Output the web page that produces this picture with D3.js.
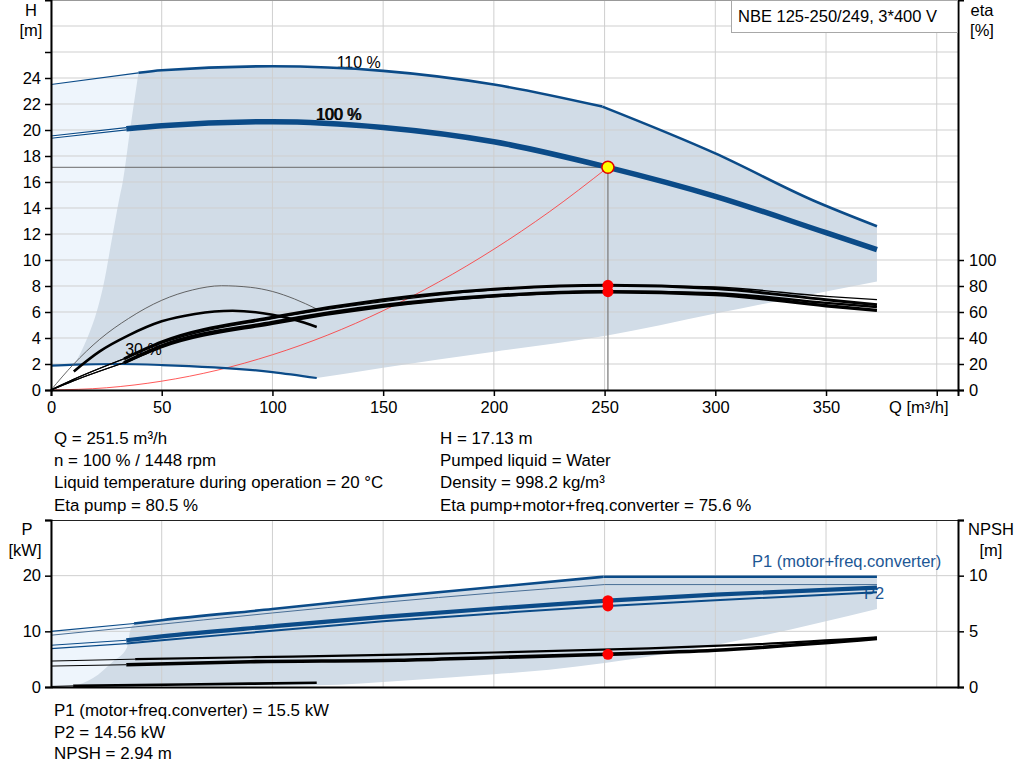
<!DOCTYPE html>
<html>
<head>
<meta charset="utf-8">
<script src="https://cdn.jsdelivr.net/npm/d3@7"></script>
<style>
  body { margin: 0; background: #fff; }
  text { font-family: "Liberation Sans", Arial, sans-serif; fill: #000; }
</style>
</head>
<body>
<div id="chart"></div>
<script>
/* ============ DATA ============ */
const qTicks = [0, 50, 100, 150, 200, 250, 300, 350, 400];
const qLabels = [0, 50, 100, 150, 200, 250, 300, 350];
const hTicks = [0, 2, 4, 6, 8, 10, 12, 14, 16, 18, 20, 22, 24];
const hGrid = [2, 4, 6, 8, 10, 12, 14, 16, 18, 20, 22, 24, 26, 28];
const etaTicks = [0, 20, 40, 60, 80, 100];
const pTicks = [0, 10, 20];
const npshTicks = [0, 5, 10];

// curvas H (m)
const h110 = [[0, 23.5], [39.5, 24.4], [50, 24.6], [100, 24.9], [150, 24.55], [200, 23.5], [249, 21.8]];
const h110Limit = [[249, 21.8], [300, 18.2], [344, 14.6], [373, 12.6]];
const h100 = [[0, 19.45], [34, 20.1], [50, 20.33], [100, 20.64], [150, 20.2], [200, 19.1], [251.5, 17.13], [300, 14.9], [350, 12.1], [373, 10.8]];
const hMin = [[0, 1.87], [10.5, 1.95], [30, 2.0], [50, 1.92], [100, 1.38], [120, 0.92]];
const hFillLeft = [[10.5, 1.95], [16.4, 4], [20.6, 6], [23.6, 8], [28, 12.1], [30.7, 14.6], [32.4, 16], [35.7, 20], [39.5, 24.4]];
const hFillBottom = [[373, 8.35], [350, 7.58], [300, 5.88], [250, 4.15], [200, 2.95], [150, 1.72], [120, 0.92]];
const systemCurve = [[0, 0], [25, 0.17], [50, 0.68], [75, 1.52], [100, 2.71], [125, 4.23], [150, 6.1], [175, 8.3], [200, 10.83], [225, 13.7], [251.5, 17.13]];

// curvas eta (%)
const eta1 = [[0, 0], [10, 8], [33, 24], [50, 36], [100, 55], [150, 68], [200, 77], [250, 80.6], [300, 79.2], [350, 72], [373, 69.5]];
const eta2 = [[0, 0], [10, 8], [33, 24], [50, 37], [100, 56], [150, 69.5], [200, 77.5], [251.5, 80.5], [300, 78], [350, 69.5], [373, 65.6]];
const eta3 = [[0, 0], [10, 7], [33, 21], [50, 33], [100, 51], [150, 64], [200, 72], [250, 75.8], [300, 74.5], [350, 67], [373, 63.8]];
const eta4 = [[0, 0], [10, 7], [33, 21], [50, 34], [100, 52], [150, 65], [200, 72.5], [251.5, 75.6], [300, 73.5], [350, 64.8], [373, 61.2]];
const eta30Pump = [[0, 0], [10, 19.5], [22, 39], [35, 55], [50, 69], [64, 77], [77, 80.2], [90, 79], [100, 75.8], [110, 70], [120, 62.3]];
const eta30Total = [[10.3, 14.3], [22, 29.7], [35, 42], [50, 52.8], [65, 58.5], [82, 61], [100, 57.9], [110, 54], [120, 48.5]];

// curvas P (kW) y NPSH (m)
const p1Max = [[0, 10.0], [37.5, 11.4], [50, 12.0], [100, 14.0], [150, 16.1], [200, 17.95], [249.5, 19.8]];
const p1MaxFlat = [[249.5, 19.8], [373, 19.8]];
const p2Max = [[0, 9.3], [38, 10.8], [100, 13.3], [150, 15.2], [200, 16.9], [250, 18.4]];
const p2MaxFlat = [[250, 18.4], [373, 18.4]];
const p1Nom = [[0, 7.5], [34, 8.4], [50, 9.1], [100, 10.9], [150, 12.6], [200, 14.1], [251.5, 15.5], [300, 16.6], [373, 17.85]];
const p2Nom = [[0, 6.9], [34, 7.8], [50, 8.4], [100, 10.1], [150, 11.8], [200, 13.2], [251.5, 14.56], [300, 15.6], [373, 17.0]];
const p1Min = [[0, 0.1], [10, 0.2], [60, 0.45], [120, 0.75]];
const pFillLeft = [[10, 0.1], [19, 1.6], [28, 4.6], [34.2, 7.0], [35.7, 10], [37.5, 11.4]];
const pFillBottom = [[373, 14.0], [316, 8.8], [250, 4.3], [225, 3.1], [200, 2.3], [160, 1.15], [120, 0.3], [10, 0.1]];
const npsh1 = [[0, 2.33], [38, 2.5], [90, 2.67], [157, 2.9], [200, 3.1], [270, 3.47], [320, 3.85], [373, 4.45]];
const npsh2 = [[0, 1.88], [34, 2.0], [90, 2.27], [157, 2.4], [200, 2.65], [251.5, 2.94], [300, 3.3], [373, 4.35]];

// punto de trabajo
const dutyQ = 251.5, dutyH = 17.13, dutyEta = [80.5, 75.6], dutyP = [15.5, 14.56], dutyNpsh = 2.94;

const infoLeft = ["Q = 251.5 m³/h", "n = 100 % / 1448 rpm", "Liquid temperature during operation = 20 °C", "Eta pump = 80.5 %"];
const infoRight = ["H = 17.13 m", "Pumped liquid = Water", "Density = 998.2 kg/m³", "Eta pump+motor+freq.converter = 75.6 %"];
const infoBottom = ["P1 (motor+freq.converter) = 15.5 kW", "P2 = 14.56 kW", "NPSH = 2.94 m"];

/* ============ ESTILOS ============ */
const BLUE = "#0b4b88";
const FILL_DARK = "#d1dce7";
const FILL_LIGHT = "#eef5fc";
const GRID = "#cfcfcf";
const FS = 16.5;     // ejes
const FS_INFO = 16.9; // bloques de texto

/* ============ SVG / ESCALAS ============ */
const svg = d3.select("#chart").append("svg")
  .attr("width", 1024).attr("height", 781)
  .style("background", "#fff");

const x = d3.scaleLinear().domain([0, 409.6]).range([51, 958]);
const yH = d3.scaleLinear().domain([0, 30]).range([390, 0]);
const yEta = d3.scaleLinear().domain([0, 300]).range([390, 0]);
const yP = d3.scaleLinear().domain([0, 30]).range([687, 520]);
const yN = d3.scaleLinear().domain([0, 15]).range([687, 520]);

function seg(pts, ys, curve = d3.curveMonotoneX) {
  return d3.line().x(d => x(d[0])).y(d => ys(d[1])).curve(curve)(pts);
}
function poly(parts, ys) {
  return parts.map((p, i) => {
    const s = seg(p, ys);
    return i ? "L" + s.slice(1) : s;
  }).join("") + "Z";
}
function line(g, pts, ys, color, w) {
  return g.append("path").attr("d", seg(pts, ys)).attr("fill", "none")
    .attr("stroke", color).attr("stroke-width", w)
    .attr("stroke-linejoin", "round").attr("stroke-linecap", "butt");
}
const from = (pts, q0) => pts.filter(d => d[0] >= q0);
const upTo = (pts, q1) => pts.filter(d => d[0] <= q1);

/* ============ GRAFICO SUPERIOR ============ */
const gTop = svg.append("g");

// rellenos
gTop.append("path")
  .attr("d", poly([upTo(h110, 39.5), [[39.5, 24.4], [39.5, 1.97]], [[39.5, 1.97], [30, 2.0], [10.5, 1.95], [0, 1.87]]], yH))
  .attr("fill", FILL_LIGHT);
gTop.append("path")
  .attr("d", poly([hFillLeft, from(h110, 39.5), h110Limit, [[373, 12.6], [373, 8.35]], hFillBottom,
    hMin.filter(d => d[0] >= 10.5).reverse()], yH))
  .attr("fill", FILL_DARK);

// rejilla
gTop.selectAll(".vg").data(qTicks).enter().append("line")
  .attr("x1", d => x(d)).attr("x2", d => x(d)).attr("y1", 0).attr("y2", yH(0))
  .attr("stroke", GRID).attr("stroke-width", 1);
gTop.selectAll(".hg").data(hGrid).enter().append("line")
  .attr("x1", x(0)).attr("x2", x.range()[1]).attr("y1", d => yH(d)).attr("y2", d => yH(d))
  .attr("stroke", GRID).attr("stroke-width", 1);

// etiquetas de curvas (debajo de las lineas)
gTop.append("text").attr("x", x(129)).attr("y", yH(24.75)).attr("font-size", FS - 0.5).text("110 %");
gTop.append("text").attr("x", x(119.5)).attr("y", yH(20.75)).attr("font-size", FS - 0.5).text("100 %");
gTop.append("text").attr("x", x(120)).attr("y", yH(20.8)).attr("font-size", FS - 0.5).text("100 %");
gTop.append("text").attr("x", x(33.5)).attr("y", yH(2.7)).attr("font-size", FS - 0.5).text("30 %");

// lineas del punto de trabajo
gTop.append("line").attr("x1", x(0)).attr("x2", x(dutyQ)).attr("y1", yH(dutyH)).attr("y2", yH(dutyH))
  .attr("stroke", "#6b6b6b").attr("stroke-width", 1);
gTop.append("line").attr("x1", x(dutyQ)).attr("x2", x(dutyQ)).attr("y1", yH(dutyH)).attr("y2", yH(0))
  .attr("stroke", "#808080").attr("stroke-width", 1.3);

// curva del sistema
line(gTop, systemCurve, yH, "#ff3030", 0.8);

// curvas H
line(gTop, upTo(h110, 39.5), yH, BLUE, 1.2);
line(gTop, from(h110, 39.5), yH, BLUE, 2.6);
line(gTop, h110Limit, yH, BLUE, 2.6);
line(gTop, upTo(h100, 34), yH, BLUE, 3.4);
line(gTop, upTo(h100, 34), yH, "#fff", 1.1);
line(gTop, from(h100, 34), yH, BLUE, 5.5);
line(gTop, hMin, yH, BLUE, 2.2);

// curvas eta
line(gTop, eta30Pump, yEta, "#555", 0.9);
line(gTop, eta30Total, yEta, "#000", 2.6);
[eta1, eta3, eta2, eta4].forEach((e, i) => {
  line(gTop, upTo(e, 33), yEta, "#000", 1.2);
  line(gTop, from(e, 33), yEta, "#000", [1.4, 2.4, 3.0, 3.4][i]);
});

// puntos de trabajo
gTop.selectAll(".de").data(dutyEta).enter().append("circle")
  .attr("cx", x(dutyQ)).attr("cy", d => yEta(d)).attr("r", 5.5).attr("fill", "#ff0000");
gTop.append("circle").attr("cx", x(dutyQ)).attr("cy", yH(dutyH)).attr("r", 6)
  .attr("fill", "#ffff00").attr("stroke", "#e00000").attr("stroke-width", 1.5);

// ejes
gTop.append("line").attr("x1", x(0)).attr("x2", 958).attr("y1", 0.5).attr("y2", 0.5).attr("stroke", "#999");
gTop.append("g").attr("transform", `translate(0,${yH(0)})`)
  .call(d3.axisBottom(x).tickValues(qTicks).tickSize(6).tickPadding(5)
    .tickFormat(d => qLabels.includes(d) ? d : ""));
gTop.append("g").attr("transform", `translate(${x(0)},0)`)
  .call(d3.axisLeft(yH).tickValues(hTicks.concat([26])).tickSize(6).tickPadding(4)
    .tickFormat(d => hTicks.includes(d) ? d : ""));
gTop.append("g").attr("transform", "translate(958,0)")
  .call(d3.axisRight(yEta).tickValues(etaTicks).tickSize(6).tickPadding(5));

// caja del titulo
gTop.append("rect").attr("x", 731.5).attr("y", 0.5).attr("width", 226).attr("height", 32)
  .attr("fill", "#fff").attr("stroke", "#a8a8a8");
gTop.append("text").attr("x", 738).attr("y", 22).attr("font-size", FS).text("NBE 125-250/249, 3*400 V");

// titulos de ejes
gTop.append("text").attr("x", 31).attr("y", 16).attr("text-anchor", "middle").attr("font-size", FS).text("H");
gTop.append("text").attr("x", 31).attr("y", 36).attr("text-anchor", "middle").attr("font-size", FS).text("[m]");
gTop.append("text").attr("x", 982).attr("y", 16).attr("text-anchor", "middle").attr("font-size", FS).text("eta");
gTop.append("text").attr("x", 982).attr("y", 36).attr("text-anchor", "middle").attr("font-size", FS).text("[%]");
gTop.append("text").attr("x", 889).attr("y", 413).attr("font-size", FS).text("Q [m³/h]");

/* ============ TEXTO CENTRAL ============ */
infoLeft.forEach((t, i) => svg.append("text").attr("x", 54).attr("y", 444 + i * 22.2).attr("font-size", FS_INFO).text(t));
infoRight.forEach((t, i) => svg.append("text").attr("x", 440).attr("y", 444 + i * 22.2).attr("font-size", FS_INFO).text(t));

/* ============ GRAFICO INFERIOR ============ */
const gBot = svg.append("g");

gBot.append("path")
  .attr("d", poly([upTo(p1Max, 37.5), [[37.5, 11.4], [37.5, 0]], [[37.5, 0], [0, 0]]], yP))
  .attr("fill", FILL_LIGHT);
gBot.append("path")
  .attr("d", poly([pFillLeft, from(p1Max, 37.5), p1MaxFlat, [[373, 19.8], [373, 14.0]], pFillBottom], yP))
  .attr("fill", FILL_DARK);

gBot.selectAll(".vg").data(qTicks).enter().append("line")
  .attr("x1", d => x(d)).attr("x2", d => x(d)).attr("y1", 520).attr("y2", yP(0))
  .attr("stroke", GRID).attr("stroke-width", 1);
gBot.selectAll(".hg").data([10, 20]).enter().append("line")
  .attr("x1", x(0)).attr("x2", 958).attr("y1", d => yP(d)).attr("y2", d => yP(d))
  .attr("stroke", GRID).attr("stroke-width", 1);

gBot.append("text").attr("x", 864).attr("y", 599).attr("font-size", FS)
  .style("fill", "#1d5795").text("P2");
gBot.append("text").attr("x", 752).attr("y", 567).attr("font-size", FS)
  .style("fill", "#1d5795").text("P1 (motor+freq.converter)");

// curvas P
line(gBot, upTo(p1Max, 37.5), yP, BLUE, 1.1);
line(gBot, from(p1Max, 37.5), yP, BLUE, 2.6);
line(gBot, p1MaxFlat, yP, BLUE, 2.6);
line(gBot, p2Max, yP, "#4a6f96", 1.0);
line(gBot, p2MaxFlat, yP, "#4a6f96", 1.0);
line(gBot, upTo(p1Nom, 34), yP, BLUE, 1.1);
line(gBot, from(p1Nom, 34), yP, BLUE, 4.2);
line(gBot, upTo(p2Nom, 34), yP, BLUE, 1.1);
line(gBot, from(p2Nom, 34), yP, BLUE, 2.0);
line(gBot, upTo(p1Min, 10), yP, "#000", 1.0);
line(gBot, from(p1Min, 10), yP, "#000", 2.6);

// curvas NPSH
line(gBot, upTo(npsh1, 38), yN, "#000", 1.0);
line(gBot, from(npsh1, 38), yN, "#000", 2.2);
line(gBot, upTo(npsh2, 34), yN, "#000", 1.0);
line(gBot, from(npsh2, 34), yN, "#000", 3.6);

gBot.selectAll(".dp").data(dutyP).enter().append("circle")
  .attr("cx", x(dutyQ)).attr("cy", d => yP(d)).attr("r", 5.5).attr("fill", "#ff0000");
gBot.append("circle").attr("cx", x(dutyQ)).attr("cy", yN(dutyNpsh)).attr("r", 5.5).attr("fill", "#ff0000");

// ejes
gBot.append("line").attr("x1", x(0)).attr("x2", 958).attr("y1", 520.5).attr("y2", 520.5).attr("stroke", "#222");
gBot.append("g").attr("transform", `translate(0,${yP(0)})`)
  .call(d3.axisBottom(x).tickValues([]).tickSizeOuter(0));
gBot.append("g").attr("transform", `translate(${x(0)},0)`)
  .call(d3.axisLeft(yP).tickValues(pTicks.concat([30])).tickSize(6).tickPadding(4)
    .tickFormat(d => pTicks.includes(d) ? d : ""));
gBot.append("g").attr("transform", "translate(958,0)")
  .call(d3.axisRight(yN).tickValues(npshTicks.concat([15])).tickSize(6).tickPadding(5)
    .tickFormat(d => npshTicks.includes(d) ? d : ""));

gBot.append("text").attr("x", 27).attr("y", 535).attr("text-anchor", "middle").attr("font-size", FS).text("P");
gBot.append("text").attr("x", 25).attr("y", 556).attr("text-anchor", "middle").attr("font-size", FS).text("[kW]");
gBot.append("text").attr("x", 991).attr("y", 535).attr("text-anchor", "middle").attr("font-size", FS).text("NPSH");
gBot.append("text").attr("x", 991).attr("y", 556).attr("text-anchor", "middle").attr("font-size", FS).text("[m]");

infoBottom.forEach((t, i) => svg.append("text").attr("x", 54).attr("y", 716 + i * 21.5).attr("font-size", FS_INFO).text(t));

// estilo de ejes
svg.selectAll(".domain").attr("stroke", "#000").attr("stroke-width", 2);
svg.selectAll(".tick line").attr("stroke", "#000").attr("stroke-width", 1.5);
svg.selectAll(".tick text").attr("font-size", FS).attr("font-family", "Liberation Sans, Arial, sans-serif").attr("fill", "#000");
</script>
</body>
</html>
